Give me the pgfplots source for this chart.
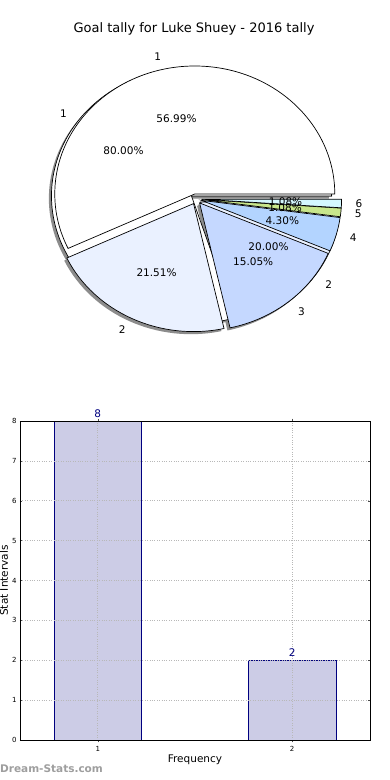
\documentclass[border=0pt]{standalone}
\usepackage{fontspec}
\setmainfont{DejaVu Sans}
\usepackage{pgfplots}
\pgfplotsset{compat=1.18}

\definecolor{pc1}{HTML}{FFFFFF}
\definecolor{pc2}{HTML}{EAF1FF}
\definecolor{pc3}{HTML}{C5D8FF}
\definecolor{pc4}{HTML}{B3D4FF}
\definecolor{pc5}{HTML}{C8E68C}
\definecolor{pc6}{HTML}{D4F7FF}
\definecolor{barfill}{HTML}{CCCCE6}
\definecolor{baredge}{HTML}{00007F}

\newcommand\pielabelfont{\fontsize{10.5}{12}\selectfont}
\newcommand\pieexpl{0.04}
\gdef\pieshadows{}\gdef\piewedges{}\gdef\pietexts{}
\newcommand\buildpie[2]{%
  \gdef\piecum{0}%
  \foreach \val/\col/\lab in {#2} {%
    \pgfmathsetmacro\aA{(\piecum/#1)*360}%
    \pgfmathsetmacro\aB{((\piecum+\val)/#1)*360}%
    \pgfmathsetmacro\am{(\aA+\aB)/2}%
    \pgfmathsetmacro\ox{\pieexpl*cos(\am)}%
    \pgfmathsetmacro\oy{\pieexpl*sin(\am)}%
    \pgfmathsetmacro\sx{\ox+cos(\aA)}%
    \pgfmathsetmacro\sy{\oy+sin(\aA)}%
    \pgfmathsetmacro\lx{\ox+1.1*cos(\am)}%
    \pgfmathsetmacro\ly{\oy+1.1*sin(\am)}%
    \pgfmathsetmacro\px{\ox+0.6*cos(\am)}%
    \pgfmathsetmacro\py{\oy+0.6*sin(\am)}%
    \pgfmathsetmacro\pct{\val*100/#1}%
    \pgfkeys{/pgf/number format/precision=2}%
    \pgfmathroundtozerofill{\pct}\let\pctstr\pgfmathresult
    \ifdim\lx pt>0pt \def\anc{west}\else\def\anc{east}\fi
    \xdef\pieshadows{\unexpanded\expandafter{\pieshadows}%
      \noexpand\fill[black!45, shift={(-2.6pt,-2.6pt)}] (axis cs:\ox,\oy) -- (axis cs:\sx,\sy) arc[start angle=\aA, end angle=\aB, x radius=140pt, y radius=128pt] -- cycle;}%
    \xdef\piewedges{\unexpanded\expandafter{\piewedges}%
      \noexpand\filldraw[fill=\col, draw=black, line width=0.7pt] (axis cs:\ox,\oy) -- (axis cs:\sx,\sy) arc[start angle=\aA, end angle=\aB, x radius=140pt, y radius=128pt] -- cycle;}%
    \xdef\pietexts{\unexpanded\expandafter{\pietexts}%
      \noexpand\node[anchor=\anc, inner sep=0pt, font=\noexpand\pielabelfont] at (axis cs:\lx,\ly) {\lab};%
      \noexpand\node[inner sep=0pt, font=\noexpand\pielabelfont] at (axis cs:\px,\py) {\pctstr\noexpand\%};}%
    \pgfmathsetmacro\newcum{\piecum+\val}%
    \global\let\piecum\newcum
  }%
}

\begin{document}
% pie data: counts per category (percentages follow from them)
\buildpie{10}{8/pc1/1, 2/pc2/2}%
\buildpie{93}{53/pc1/1, 20/pc2/2, 14/pc3/3, 4/pc4/4, 1/pc5/5, 1/pc6/6}%
\begin{tikzpicture}
\path[use as bounding box] (0pt,0pt) rectangle (390pt,780pt);

% ---------- pie chart ----------
\begin{axis}[
  at={(0pt,401.8pt)}, anchor=south west,
  x=140pt, y=128pt,
  xmin=-1.4, xmax=1.4, ymin=-1.4, ymax=1.4,
  hide axis, clip=false,
]
\addplot[draw=none, forget plot] coordinates {(0,0)};
\pgfplotsextra{\pieshadows\piewedges\pietexts}
\end{axis}

\node[font=\fontsize{13}{15}\selectfont] at (194pt,751pt) {Goal tally for Luke Shuey - 2016 tally};

% ---------- bar chart ----------
\begin{axis}[
  at={(20pt,40pt)}, anchor=south west,
  scale only axis, width=350pt, height=319pt,
  xmin=0.6, xmax=2.4, ymin=0, ymax=8,
  xtick={1,2}, ytick={0,1,...,8},
  grid=major, grid style={dotted, black!28, line width=0.7pt},
  axis on top, clip=false,
  axis line style={black, line width=0.7pt},
  tick style={black!70, line width=0.5pt}, major tick length=2.5pt,
  tick label style={font=\fontsize{7}{8}\selectfont},
  /pgf/number format/assume math mode=true,
  xlabel={Frequency}, ylabel={Stat Intervals},
  label style={font=\fontsize{10.5}{12}\selectfont},
  xlabel style={at={(axis description cs:0.5,-0.0627)}, anchor=center},
  ylabel style={at={(axis description cs:-0.046,0.5)}, anchor=center},
  ybar, bar width=0.45,
  nodes near coords,
  nodes near coords style={font=\fontsize{10.5}{12}\selectfont, text=baredge},
]
\addplot[fill=barfill, draw=baredge, line width=0.7pt] coordinates {(1,8) (2,2)};
\end{axis}

\node[anchor=west, inner sep=0pt, font=\bfseries\fontsize{10.5}{12}\selectfont, text=black!38] at (0pt,11pt) {Dream-Stats.com};
\end{tikzpicture}
\end{document}
